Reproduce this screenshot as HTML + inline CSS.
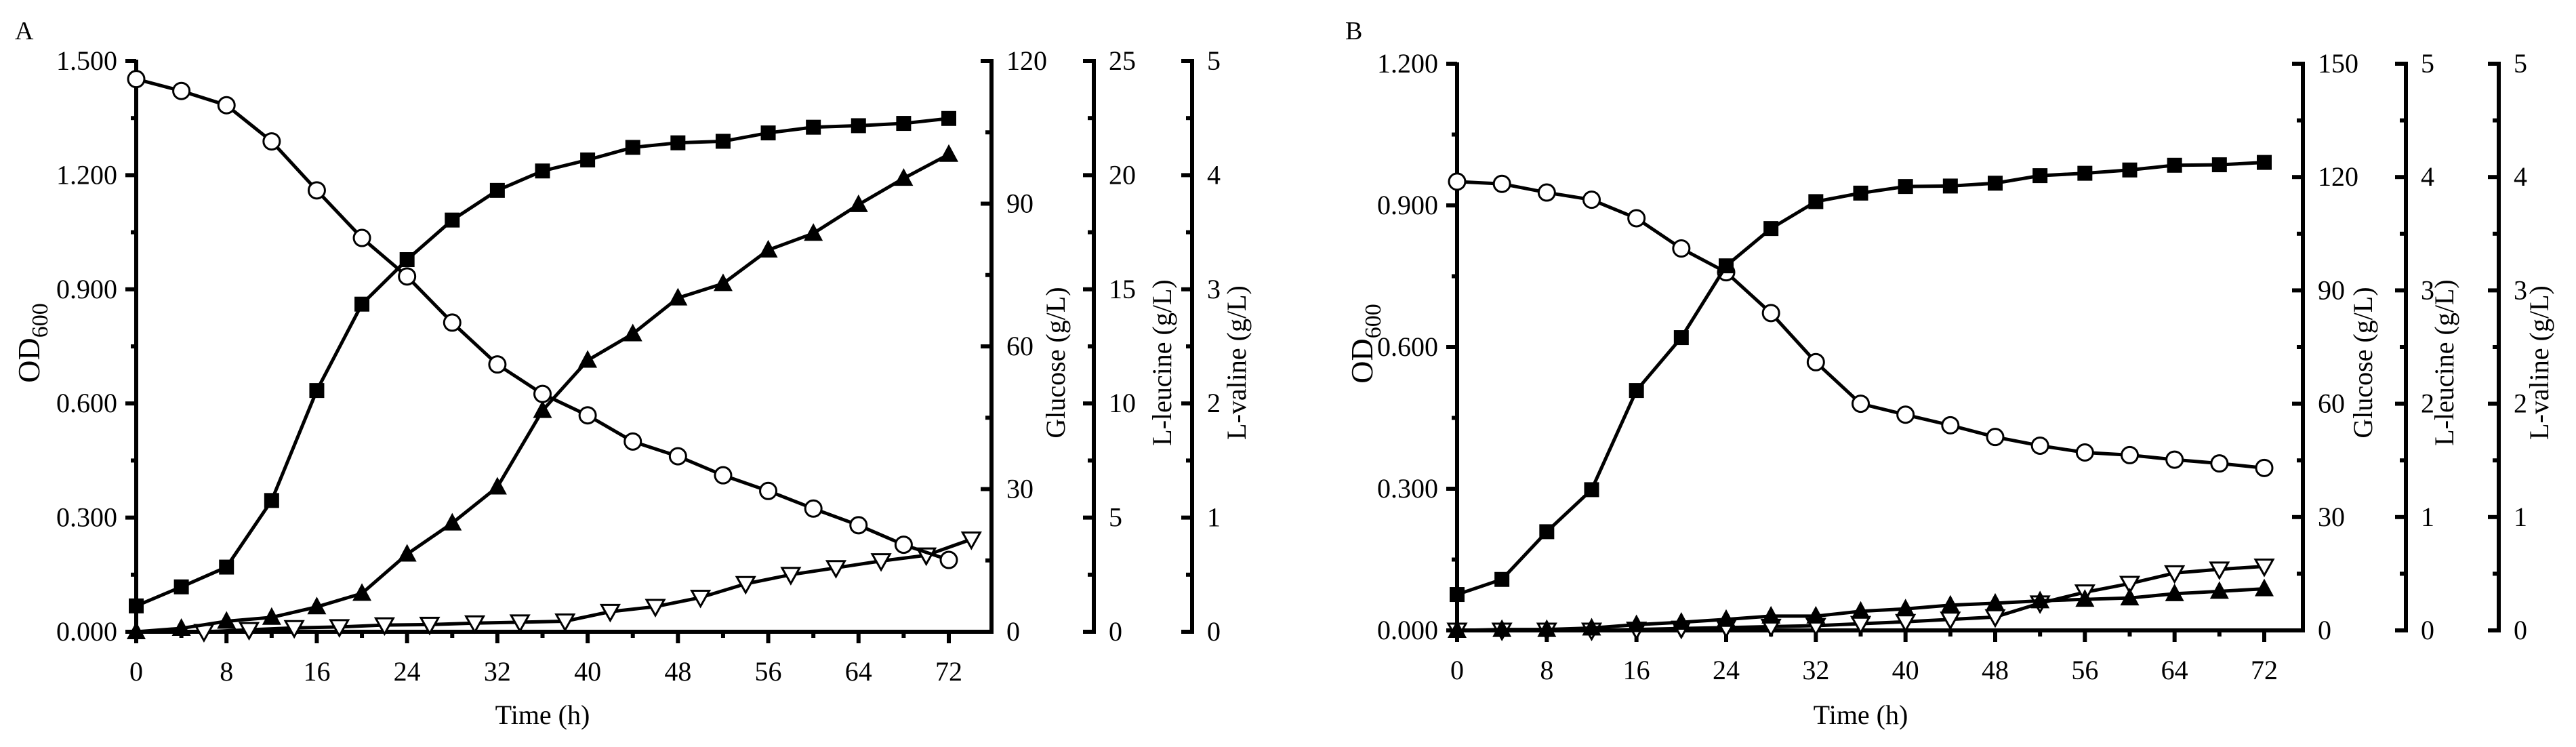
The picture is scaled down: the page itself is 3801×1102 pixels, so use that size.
<!DOCTYPE html>
<html><head><meta charset="utf-8"><style>
html,body{margin:0;padding:0;background:#fff;}
svg{display:block;font-family:"Liberation Serif",serif;}
</style></head><body>
<svg id="chart" width="3801" height="1102" viewBox="0 0 3801 1102" xmlns="http://www.w3.org/2000/svg"></svg>
<script>
// ---- Data ----
const timesA = [0,4,8,12,16,20,24,28,32,36,40,44,48,52,56,60,64,68,72];
const timesValA = [6,10,14,18,22,26,30,34,38,42,46,50,54,58,62,66,70,74];
const odA = [0.068,0.118,0.170,0.345,0.634,0.861,0.978,1.082,1.160,1.211,1.240,1.273,1.285,1.289,1.311,1.326,1.330,1.336,1.349];
const glucoseA = [116.2,113.7,110.7,103.1,92.8,82.8,74.7,65.0,56.2,50.0,45.5,40.0,36.9,32.9,29.6,25.9,22.4,18.3,15.1];
const leucineA = [0,0.15,0.46,0.63,1.09,1.68,3.40,4.76,6.34,9.69,11.89,13.05,14.62,15.25,16.72,17.45,18.71,19.86,20.91];
const valineA = [0,0.017,0.034,0.042,0.059,0.063,0.076,0.084,0.092,0.176,0.22,0.30,0.42,0.50,0.56,0.62,0.67,0.81];
const timesB = [0,4,8,12,16,20,24,28,32,36,40,44,48,52,56,60,64,68,72];
const odB = [0.076,0.108,0.209,0.298,0.508,0.620,0.772,0.851,0.908,0.926,0.940,0.941,0.947,0.963,0.968,0.975,0.985,0.986,0.991];
const glucoseB = [118.8,118.2,115.9,114.0,109.1,101.1,94.8,84.0,71.0,60.0,57.1,54.3,51.2,48.9,47.1,46.4,45.2,44.2,43.0];
const leucineB = [0,0.008,0.008,0.021,0.051,0.072,0.097,0.126,0.126,0.169,0.190,0.223,0.240,0.261,0.274,0.286,0.324,0.345,0.367];
const valineB = [0,0,0,0,0.008,0.017,0.025,0.034,0.042,0.059,0.076,0.097,0.118,0.240,0.337,0.413,0.506,0.539,0.565];
const xTicks = [0,8,16,24,32,40,48,56,64,72];
const odTicksA = ["0.000","0.300","0.600","0.900","1.200","1.500"];
const odTicksB = ["0.000","0.300","0.600","0.900","1.200"];

const NS="http://www.w3.org/2000/svg";
const svg=document.getElementById('chart');
function mk(tag,attrs,parent){const e=document.createElementNS(NS,tag);for(const k in attrs)e.setAttribute(k,attrs[k]);(parent||svg).appendChild(e);return e;}

function panel(cfg){
  const g=mk('g',{});
  
  
  const {x0,x72,yTop,yBot}=cfg;
  const sx=t=>x0+(x72-x0)*t/72;
  const ax=(max)=>v=>yBot-(yBot-yTop)*v/max;
  const yOD=ax(cfg.odMax), yG=ax(cfg.gMax), yL=ax(cfg.lMax), yV=ax(cfg.vMax);
  const pl=mk('text',{x:cfg.letterX,y:58,'font-size':38},g);pl.textContent=cfg.id;
  
  
  const la=mk('line',{x1:x0,y1:yTop-2,x2:x0,y2:yBot+3,stroke:'#000','stroke-width':6},g);
  
  
  cfg.odTicks.forEach((lab,i)=>{
    const v=parseFloat(lab), y=yOD(v);
    mk('line',{x1:x0-16,y1:y,x2:x0,y2:y,stroke:'#000','stroke-width':6},g);
    if(i<cfg.odTicks.length-1) mk('line',{x1:x0-8,y1:yOD(v+0.15),x2:x0,y2:yOD(v+0.15),stroke:'#000','stroke-width':6},g);
    const t=mk('text',{x:x0-28,y:y+13,'font-size':40,'text-anchor':'end'},g);t.textContent=lab;
    
    
  });
  const odl=mk('text',{transform:`translate(${cfg.odLabelX},${(yTop+yBot)/2-5}) rotate(-90)`,'font-size':46,'text-anchor':'middle'},g);
  odl.innerHTML='OD<tspan font-size="34" dy="12">600</tspan>';
  
  
  const xa=mk('line',{x1:x0-3,y1:yBot,x2:cfg.gX+3,y2:yBot,stroke:'#000','stroke-width':6},g);
  
  
  xTicks.forEach(t=>{
    mk('line',{x1:sx(t),y1:yBot,x2:sx(t),y2:yBot+17,stroke:'#000','stroke-width':6},g);
    if(t<72) mk('line',{x1:sx(t+4),y1:yBot,x2:sx(t+4),y2:yBot+9,stroke:'#000','stroke-width':6},g);
    const tl=mk('text',{x:sx(t),y:yBot+72,'font-size':40,'text-anchor':'middle'},g);tl.textContent=t;
    
    
  });
  const xt=mk('text',{x:(x0+x72)/2,y:1068,'font-size':40,'text-anchor':'middle'},g);xt.textContent='Time (h)';
  
  
  [[cfg.gX,cfg.gMax,cfg.gStep,'Glucose (g/L)',cfg.gLabX,'glucose-axis'],
   [cfg.lX,cfg.lMax,cfg.lStep,'L-leucine (g/L)',cfg.lLabX,'leucine-axis'],
   [cfg.vX,cfg.vMax,cfg.vStep,'L-valine (g/L)',cfg.vLabX,'valine-axis']].forEach(([X,max,step,title,labX,nm])=>{
    const f=ax(max);
    const l=mk('line',{x1:X,y1:yTop-3,x2:X,y2:yBot+3,stroke:'#000','stroke-width':6},g);
    
    
    for(let v=0;v<=max+1e-9;v+=step){
      const y=f(v);
      mk('line',{x1:X-16,y1:y,x2:X,y2:y,stroke:'#000','stroke-width':6},g);
      if(v+step<=max+1e-9) mk('line',{x1:X-9,y1:f(v+step/2),x2:X,y2:f(v+step/2),stroke:'#000','stroke-width':6},g);
      const tl=mk('text',{x:X+22,y:y+13,'font-size':40},g);tl.textContent=Math.round(v*100)/100;
      
      
    }
    const tt=mk('text',{transform:`translate(${labX},535) rotate(-90)`,'font-size':40,'text-anchor':'middle'},g);
    tt.textContent=title;
    
    
  });
  function series(ts,vals,fy,marker,name){
    const sg=mk('g',{},g);
    
    
    const pts=ts.map((t,i)=>[sx(t),fy(vals[i])]);
    mk('polyline',{points:pts.map(p=>p.join(',')).join(' '),fill:'none',stroke:'#000','stroke-width':5},sg);
    pts.forEach(([x,y])=>{
      let m;
      if(marker==='square') m=mk('rect',{x:x-11,y:y-11,width:22,height:22,fill:'#000'},sg);
      else if(marker==='circle') m=mk('circle',{cx:x,cy:y,r:12,fill:'#fff',stroke:'#000','stroke-width':3},sg);
      else if(marker==='up') m=mk('polygon',{points:`${x},${y-15} ${x-14},${y+11} ${x+14},${y+11}`,fill:'#000'},sg);
      else m=mk('polygon',{points:`${x-13},${y-10} ${x+13},${y-10} ${x},${y+13}`,fill:'#fff',stroke:'#000','stroke-width':3},sg);
      
      
    });
  }
  series(cfg.tv,cfg.val,yV,'down','valine-series');
  series(cfg.t,cfg.leu,yL,'up','leucine-series');
  series(cfg.t,cfg.glu,yG,'circle','glucose-series');
  series(cfg.t,cfg.od,yOD,'square','od-series');
}
panel({id:'A',x0:201,x72:1400,yTop:90,yBot:932,odMax:1.5,gMax:120,gStep:30,lMax:25,lStep:5,vMax:5,vStep:1,
  gX:1463,lX:1614,vX:1759,gLabX:1571,lLabX:1728,vLabX:1838,letterX:22,odLabelX:58,odTicks:odTicksA,
  t:timesA,tv:timesValA,od:odA,glu:glucoseA,leu:leucineA,val:valineA});
panel({id:'B',x0:2150,x72:3341,yTop:94,yBot:930,odMax:1.2,gMax:150,gStep:30,lMax:5,lStep:1,vMax:5,vStep:1,
  gX:3398,lX:3550,vX:3687,gLabX:3500,lLabX:3620,vLabX:3760,letterX:1985,odLabelX:2025,odTicks:odTicksB,
  t:timesB,tv:timesB,od:odB,glu:glucoseB,leu:leucineB,val:valineB});
</script>
</body></html>
